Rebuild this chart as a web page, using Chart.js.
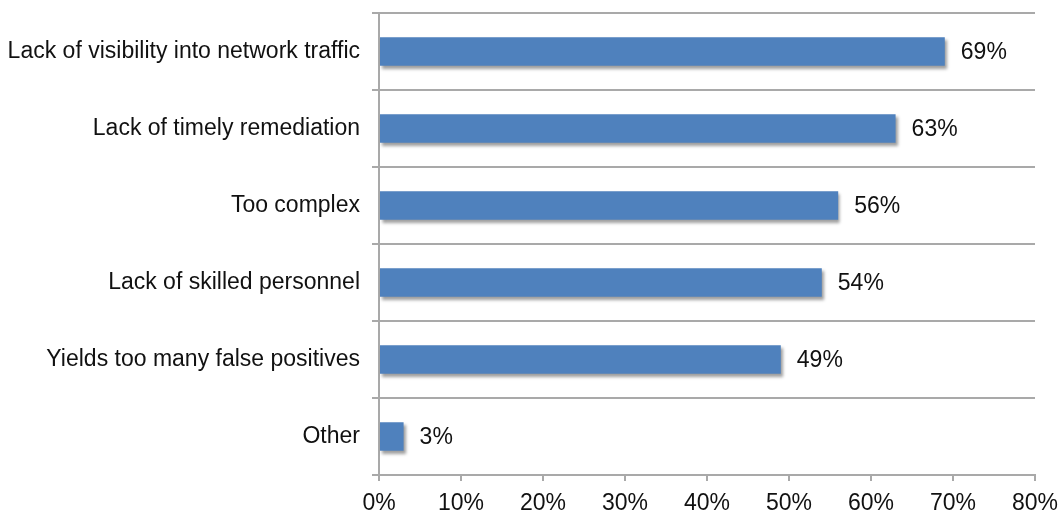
<!DOCTYPE html>
<html>
<head>
<meta charset="utf-8">
<script src="https://cdn.jsdelivr.net/npm/chart.js@4/dist/chart.umd.min.js"></script>
<style>
  html, body { margin: 0; padding: 0; background: #ffffff; }
  #wrap { width: 1062px; height: 513px; }
</style>
</head>
<body>
<div id="wrap"><canvas id="c" width="1062" height="513"></canvas></div>
<script>
// Reasons cited, and share of respondents citing each (%)
const categories = [
  'Lack of visibility into network traffic',
  'Lack of timely remediation',
  'Too complex',
  'Lack of skilled personnel',
  'Yields too many false positives',
  'Other'
];
const shares = [69, 63, 56, 54, 49, 3];
const xTicks = [0, 10, 20, 30, 40, 50, 60, 70, 80];

const FONT = 'Liberation Sans, Arial, sans-serif';
const TEXT = '#111111';
const LINE = '#a9a9a9';

// Soft drop shadow under the bars
const barShadow = {
  id: 'barShadow',
  beforeDatasetsDraw(chart) {
    const ctx = chart.ctx;
    ctx.save();
    ctx.shadowColor = 'rgba(0,0,0,0.38)';
    ctx.shadowBlur = 3;
    ctx.shadowOffsetX = 2;
    ctx.shadowOffsetY = 3;
  },
  afterDatasetsDraw(chart) {
    chart.ctx.restore();
  }
};

// Percentage label to the right of each bar
const valueLabels = {
  id: 'valueLabels',
  afterDraw(chart) {
    const ctx = chart.ctx;
    const meta = chart.getDatasetMeta(0);
    ctx.save();
    ctx.font = '23px ' + FONT;
    ctx.fillStyle = TEXT;
    ctx.textAlign = 'left';
    ctx.textBaseline = 'middle';
    meta.data.forEach((bar, i) => {
      ctx.fillText(shares[i] + '%', bar.x + 16, bar.y + 1);
    });
    ctx.restore();
  }
};

new Chart(document.getElementById('c'), {
  type: 'bar',
  data: {
    labels: categories,
    datasets: [{
      data: shares,
      backgroundColor: '#4f81bd',
      borderWidth: 0,
      categoryPercentage: 1,
      barPercentage: 0.37
    }]
  },
  options: {
    indexAxis: 'y',
    responsive: false,
    animation: false,
    devicePixelRatio: 1,
    layout: { padding: { top: 13, right: 27, left: 0, bottom: 0 } },
    plugins: { legend: { display: false }, tooltip: { enabled: false } },
    scales: {
      x: {
        min: 0,
        max: 80,
        afterBuildTicks(scale) { scale.ticks = xTicks.map(v => ({ value: v })); },
        afterFit(scale) {
          scale.height = 38;
          scale.paddingLeft = 0;
          scale.paddingRight = 0;
        },
        border: { display: true, color: LINE, width: 2 },
        grid: { drawOnChartArea: false, drawTicks: true, tickLength: 6, color: LINE, lineWidth: 2 },
        ticks: {
          padding: 9,
          color: TEXT,
          font: { family: FONT, size: 23 },
          callback: v => v + '%'
        }
      },
      y: {
        afterFit(scale) {
          scale.width = 379;
          scale.paddingTop = 0;
          scale.paddingBottom = 0;
        },
        border: { display: true, color: LINE, width: 2 },
        grid: { offset: true, drawOnChartArea: true, drawTicks: true, tickLength: 7, color: LINE, lineWidth: 2 },
        ticks: {
          padding: 12,
          color: TEXT,
          font: { family: FONT, size: 23 }
        }
      }
    }
  },
  plugins: [barShadow, valueLabels]
});
</script>
</body>
</html>
